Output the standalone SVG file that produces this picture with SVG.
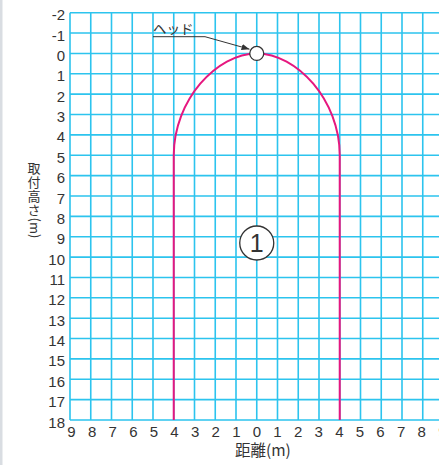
<svg xmlns="http://www.w3.org/2000/svg" width="439" height="465" viewBox="0 0 439 465">
  <defs>
    <style>
      .grid { stroke: #2cc4ee; stroke-width: 1.6; fill: none; }
      .num { font-family: "Liberation Sans", Arial, sans-serif; font-size: 15px; fill: #333; }
      .jp { font-family: "Noto Sans CJK JP", "Liberation Sans", sans-serif; fill: #333; }
      .curve { stroke: #e6177f; stroke-width: 2; fill: none; }
      .lead { stroke: #333; stroke-width: 1; fill: none; }
    </style>
    <marker id="arr" viewBox="0 0 10 8" refX="10" refY="4" markerWidth="8" markerHeight="6.4" markerUnits="userSpaceOnUse" orient="auto">
      <path d="M0,0 L10,4 L0,8 z" fill="#333"/>
    </marker>
  </defs>
  <rect x="0" y="0" width="439" height="465" fill="#fff"/>
  <rect x="0" y="0" width="2.5" height="465" fill="#d9dde2"/>

  <g id="grid" class="grid">
    <path d="M70,12.7V420 M90.75,12.7V420 M111.5,12.7V420 M132.25,12.7V420 M153,12.7V420 M173.75,12.7V420 M194.5,12.7V420 M215.25,12.7V420 M236,12.7V420 M256.75,12.7V420 M277.5,12.7V420 M298.25,12.7V420 M319,12.7V420 M339.75,12.7V420 M360.5,12.7V420 M381.25,12.7V420 M402,12.7V420 M422.75,12.7V420"/>
    <path d="M70,12.7H439 M70,33.07H439 M70,53.43H439 M70,73.8H439 M70,94.16H439 M70,114.53H439 M70,134.89H439 M70,155.26H439 M70,175.62H439 M70,195.99H439 M70,216.35H439 M70,236.72H439 M70,257.08H439 M70,277.45H439 M70,297.81H439 M70,318.18H439 M70,338.54H439 M70,358.91H439 M70,379.27H439 M70,399.64H439 M70,420H439"/>
  </g>

  <g id="y-labels" class="num" text-anchor="end">
    <text x="65" y="20.2">-2</text>
    <text x="65" y="40.6">-1</text>
    <text x="65" y="60.9">0</text>
    <text x="65" y="81.3">1</text>
    <text x="65" y="101.7">2</text>
    <text x="65" y="122">3</text>
    <text x="65" y="142.4">4</text>
    <text x="65" y="162.8">5</text>
    <text x="65" y="183.1">6</text>
    <text x="65" y="203.5">7</text>
    <text x="65" y="223.9">8</text>
    <text x="65" y="244.2">9</text>
    <text x="65" y="264.6">10</text>
    <text x="65" y="285">11</text>
    <text x="65" y="305.3">12</text>
    <text x="65" y="325.7">13</text>
    <text x="65" y="346">14</text>
    <text x="65" y="366.4">15</text>
    <text x="65" y="386.8">16</text>
    <text x="65" y="407.1">17</text>
    <text x="65" y="427.5">18</text>
  </g>

  <g id="x-labels" class="num" text-anchor="middle">
    <text x="71.5" y="437.3">9</text>
    <text x="92.1" y="437.3">8</text>
    <text x="112.7" y="437.3">7</text>
    <text x="133.3" y="437.3">6</text>
    <text x="153.9" y="437.3">5</text>
    <text x="174.5" y="437.3">4</text>
    <text x="195.1" y="437.3">3</text>
    <text x="215.7" y="437.3">2</text>
    <text x="236.3" y="437.3">1</text>
    <text x="256.9" y="437.3">0</text>
    <text x="277.5" y="437.3">1</text>
    <text x="298.1" y="437.3">2</text>
    <text x="318.7" y="437.3">3</text>
    <text x="339.3" y="437.3">4</text>
    <text x="359.9" y="437.3">5</text>
    <text x="380.5" y="437.3">6</text>
    <text x="401.1" y="437.3">7</text>
    <text x="421.7" y="437.3">8</text>
    <text x="442.3" y="437.3">9</text>
  </g>

  <g id="axis-titles" class="jp">
    <text x="235" y="456" style="font-size:15.5px">距離(m)</text>
    <g style="font-size:13px" text-anchor="middle">
      <text x="34" y="173">取</text>
      <text x="34" y="187">付</text>
      <text x="34" y="201">高</text>
      <text x="34" y="215">さ</text>
      <text transform="translate(29.5,217.5) rotate(90)" text-anchor="start">(m)</text>
    </g>
  </g>

  <g id="range-curve">
    <path class="curve" d="M173.75,420 L173.75,155.3 C173.75,100.3 216.75,53.4 256.75,53.4 C296.75,53.4 339.75,100.3 339.75,155.3 L339.75,420"/>
  </g>

  <g id="connectors">
    <path class="lead" d="M153,36.7 H205 L249.5,49.2" marker-end="url(#arr)"/>
  </g>

  <g id="head">
    <circle cx="256.75" cy="53.4" r="7" fill="#fff" stroke="#333" stroke-width="1.3"/>
    <text class="jp" x="153" y="34" style="font-size:13.5px">ヘッド</text>
  </g>

  <g id="area-1">
    <circle cx="256.75" cy="243" r="17" fill="#fff" stroke="#333" stroke-width="1.3"/>
    <text class="num" x="256.75" y="252" style="font-size:25px" text-anchor="middle">1</text>
  </g>
</svg>
